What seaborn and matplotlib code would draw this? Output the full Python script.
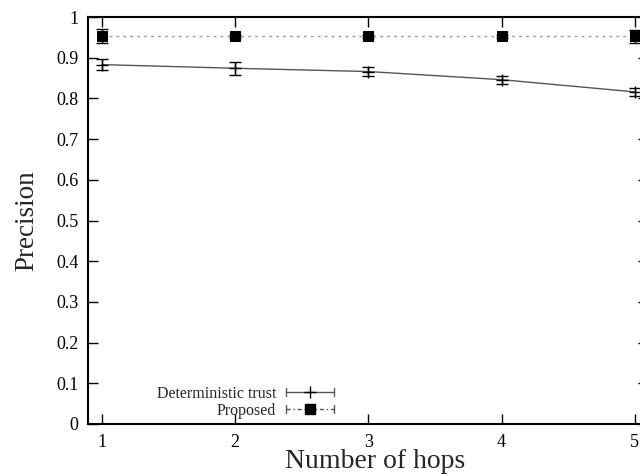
import numpy as np
import pandas as pd
import matplotlib
matplotlib.use("Agg")
import matplotlib.pyplot as plt
import seaborn as sns
from matplotlib.legend_handler import HandlerBase
from matplotlib.lines import Line2D

hops = [1, 2, 3, 4, 5]
det_trust = [0.883, 0.874, 0.866, 0.846, 0.816]
det_err = [0.014, 0.016, 0.012, 0.010, 0.009]
proposed = [0.953, 0.953, 0.953, 0.953, 0.953]
prop_err = [0.018, 0.004, 0.004, 0.004, 0.016]
yticks = [0, 0.1, 0.2, 0.3, 0.4, 0.5, 0.6, 0.7, 0.8, 0.9, 1]
ytick_labels = ["0", "0.1", "0.2", "0.3", "0.4", "0.5", "0.6", "0.7", "0.8", "0.9", "1"]

sns.set_theme(style="white")
plt.rcParams['font.family'] = ['Liberation Serif', 'DejaVu Serif']
plt.rcParams['mathtext.fontset'] = 'stix'

fig = plt.figure(figsize=(6.4, 4.75), dpi=100)
ax = fig.add_axes([88/640, 51/475, 560/640, 407/475])

df = pd.DataFrame({
    "hops": hops * 2,
    "precision": det_trust + proposed,
    "series": ["Deterministic trust"] * 5 + ["Proposed"] * 5,
})

sns.lineplot(data=df[df.series == "Deterministic trust"], x="hops", y="precision",
             ax=ax, color="#555555", lw=1.0, legend=False)
sns.lineplot(data=df[df.series == "Proposed"], x="hops", y="precision",
             ax=ax, color="#999999", lw=1.0, linestyle=(0, (2, 3)), legend=False,
             marker="s", markersize=6.5, markerfacecolor="black", markeredgecolor="black")

ax.errorbar(hops, det_trust, yerr=det_err, fmt="+", color="black", ms=9, mew=1.0,
            elinewidth=1.0, capsize=4, capthick=1.0)
ax.errorbar(hops, proposed, yerr=prop_err, fmt="none", ecolor="black",
            elinewidth=1.0, capsize=4, capthick=1.0)

ax.set_xlim(0.895, 5.1)
ax.set_ylim(0, 1)
ax.set_xticks(hops)
ax.set_xticklabels([str(h) for h in hops])
ax.set_yticks(yticks)
ax.set_yticklabels(ytick_labels)
ax.tick_params(direction="in", length=7, width=1.0, labelsize=13, colors="black",
               top=True, right=True, bottom=True, left=True, pad=7)
for s in ax.spines.values():
    s.set_color("black")
    s.set_linewidth(1.5)
ax.set_xlabel("Number of hops", fontsize=20, labelpad=0)
ax.xaxis.set_label_coords(0.5125, -0.062, transform=ax.transAxes)
ax.xaxis.label.set_va("top")
ax.set_ylabel("Precision", fontsize=19.5, labelpad=12)
ax.grid(False)


class ErrHandler(HandlerBase):
    def __init__(self, marker, ms, ls, lc):
        super().__init__()
        self.marker, self.ms, self.ls, self.lc = marker, ms, ls, lc

    def create_artists(self, legend, orig_handle, xdescent, ydescent, width, height, fontsize, trans):
        y = height / 2 - ydescent
        x0, x1 = -xdescent, -xdescent + width
        arts = [Line2D([x0, x1], [y, y], color=self.lc, lw=1.0, linestyle=self.ls, transform=trans),
                Line2D([x0, x0], [y - 3, y + 3], color=self.lc, lw=1.0, transform=trans),
                Line2D([x1, x1], [y - 3, y + 3], color=self.lc, lw=1.0, transform=trans),
                Line2D([(x0 + x1) / 2], [y], marker=self.marker, ms=self.ms, color="black",
                       mew=1.0, linestyle="none", transform=trans)]
        return arts


h1 = Line2D([], [])
h2 = Line2D([], [])
ax.legend([h1, h2], ["Deterministic trust", "Proposed"],
          handler_map={h1: ErrHandler("+", 9, "-", "#555555"),
                       h2: ErrHandler("s", 6.5, (0, (3, 2, 1, 2)), "#555555")},
          loc="lower left", bbox_to_anchor=(0.097, -0.022), frameon=False, markerfirst=False,
          fontsize=11.5, handlelength=3.0, handletextpad=0.6, labelspacing=0.05)

fig.savefig("out.png", dpi=100)
